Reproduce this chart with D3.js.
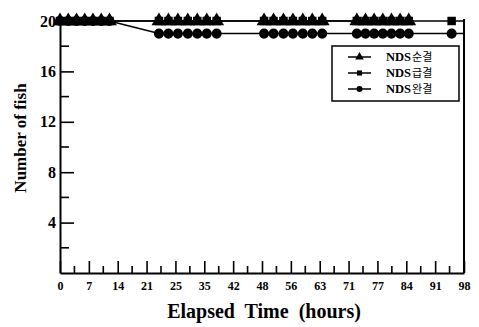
<!DOCTYPE html>
<html lang="ko">
<head>
<meta charset="UTF-8">
<title>Number of fish vs elapsed time</title>
<script src="https://d3js.org/d3.v7.min.js"></script>
<style>
  body { margin: 0; background: #fff; }
  svg { display: block; }
  .tick-lbl { font-family: "Liberation Serif", serif; font-weight: bold; }
</style>
</head>
<body>
<svg width="479" height="327"></svg>
<script>
// positions along the (evenly spaced) time axis
const hours = [0, 2, 4, 6, 8, 10, 12,
               24, 26.3, 28.6, 31, 33.3, 35.6, 38,
               49.5, 51.8, 54.2, 56.5, 58.9, 61.2, 63.6,
               72, 74.1, 76.2, 78.3, 80.4, 82.5, 84.6,
               95];
const sunValues  = [20,20,20,20,20,20,20, 20,20,20,20,20,20,20, 20,20,20,20,20,20,20, 20,20,20,20,20,20,20, null];
const gupValues  = [20,20,20,20,20,20,20, 20,20,20,20,20,20,20, 20,20,20,20,20,20,20, 20,20,20,20,20,20,20, 20];
const wanValues  = [20,20,20,20,20,20,20, 19,19,19,19,19,19,19, 19,19,19,19,19,19,19, 19,19,19,19,19,19,19, 19];
const seriesNames = ["순결", "급결", "완결"];
const xTickLabels = ["0","7","14","21","25","35","42","48","56","63","71","77","84","91","98"];
const yTicks = [4, 8, 12, 16, 20];
const yMinor = [2, 6, 10, 14, 18];

const svg = d3.select("svg");
const x = d3.scaleLinear().domain([0, 98]).range([60, 464]);
const y = d3.scaleLinear().domain([0, 20]).range([273, 21]);

const series = [
  { name: seriesNames[0], values: sunValues, sym: d3.symbolTriangle, size: 95, legSize: 32, extend: false },
  { name: seriesNames[1], values: gupValues, sym: d3.symbolSquare, size: 72, legSize: 26, extend: true },
  { name: seriesNames[2], values: wanValues, sym: d3.symbolCircle, size: 80, legSize: 28, extend: true }
];

// axes
const majorX = xTickLabels.map((d, i) => i * 7);
const minorX = xTickLabels.slice(1).map((d, i) => i * 7 + 3.5);

const xAxis = svg.append("g").attr("transform", `translate(0,${y(0)})`)
  .call(d3.axisBottom(x).tickValues(majorX).tickFormat((d, i) => xTickLabels[i])
        .tickSizeInner(-12).tickSizeOuter(0).tickPadding(8));
xAxis.select(".domain").attr("stroke-width", 2).attr("stroke", "#000");
xAxis.selectAll(".tick line").attr("stroke-width", 1.6);
xAxis.selectAll(".tick text").attr("class", "tick-lbl").attr("font-size", 12).attr("fill", "#000");

svg.append("g").selectAll("line").data(minorX).join("line")
  .attr("x1", d => x(d)).attr("x2", d => x(d))
  .attr("y1", y(0)).attr("y2", y(0) - 7)
  .attr("stroke", "#000").attr("stroke-width", 1.6);

const yAxis = svg.append("g").attr("transform", `translate(${x(0)},0)`)
  .call(d3.axisLeft(y).tickValues(yTicks).tickSizeInner(-14).tickSizeOuter(0).tickPadding(4));
yAxis.select(".domain").attr("stroke-width", 2).attr("stroke", "#000");
yAxis.selectAll(".tick line").attr("stroke-width", 1.6);
yAxis.selectAll(".tick text").attr("class", "tick-lbl").attr("font-size", 16).attr("fill", "#000");

svg.append("g").selectAll("line").data(yMinor).join("line")
  .attr("x1", x(0)).attr("x2", x(0) + 9)
  .attr("y1", d => y(d)).attr("y2", d => y(d))
  .attr("stroke", "#000").attr("stroke-width", 1.6);

// right border
svg.append("line")
  .attr("x1", x(98)).attr("x2", x(98)).attr("y1", y(20) - 2).attr("y2", y(0))
  .attr("stroke", "#000").attr("stroke-width", 2);

// series: lines then markers (circles bottom, triangles on top)
const line = d3.line().x(d => x(d[0])).y(d => y(d[1]));
const drawOrder = [series[2], series[1], series[0]];
drawOrder.forEach(s => {
  const pts = hours.map((h, i) => [h, s.values[i]]).filter(d => d[1] != null);
  const linePts = s.extend ? pts.concat([[98, pts[pts.length - 1][1]]]) : pts;
  svg.append("path").datum(linePts)
    .attr("d", line).attr("fill", "none").attr("stroke", "#000").attr("stroke-width", 1.5);
  svg.append("g").selectAll("path").data(pts).join("path")
    .attr("transform", d => `translate(${x(d[0])},${y(d[1])})`)
    .attr("d", d3.symbol().type(s.sym).size(s.size))
    .attr("fill", "#000");
});

// legend
const leg = svg.append("g");
leg.append("rect").attr("x", 332).attr("y", 46).attr("width", 127).attr("height", 55)
  .attr("fill", "#fff").attr("stroke", "#000").attr("stroke-width", 1.5);
series.forEach((s, i) => {
  const ly = 57 + i * 16;
  leg.append("line").attr("x1", 348).attr("x2", 371).attr("y1", ly).attr("y2", ly)
    .attr("stroke", "#000").attr("stroke-width", 1.5);
  leg.append("path").attr("transform", `translate(359.5,${ly})`)
    .attr("d", d3.symbol().type(s.sym).size(s.legSize)).attr("fill", "#000");
  const t = leg.append("text").attr("x", 386).attr("y", ly).attr("dy", "0.35em")
    .attr("font-size", 12.5);
  t.append("tspan").attr("font-family", "Liberation Serif, serif").attr("font-weight", "bold").text("NDS");
  t.append("tspan").attr("dx", 1).attr("font-size", 11)
    .attr("font-family", "Noto Sans CJK KR, sans-serif").attr("font-weight", "normal").text(s.name);
});

// axis titles
svg.append("text")
  .attr("x", 264).attr("y", 318).attr("text-anchor", "middle")
  .attr("font-family", "Liberation Serif, serif").attr("font-weight", "bold").attr("font-size", 20)
  .attr("xml:space", "preserve")
  .text("Elapsed  Time  (hours)");

svg.append("text")
  .attr("transform", "translate(26,138) rotate(-90)").attr("text-anchor", "middle")
  .attr("font-family", "Liberation Serif, serif").attr("font-weight", "bold").attr("font-size", 17)
  .text("Number of fish");
</script>
</body>
</html>
